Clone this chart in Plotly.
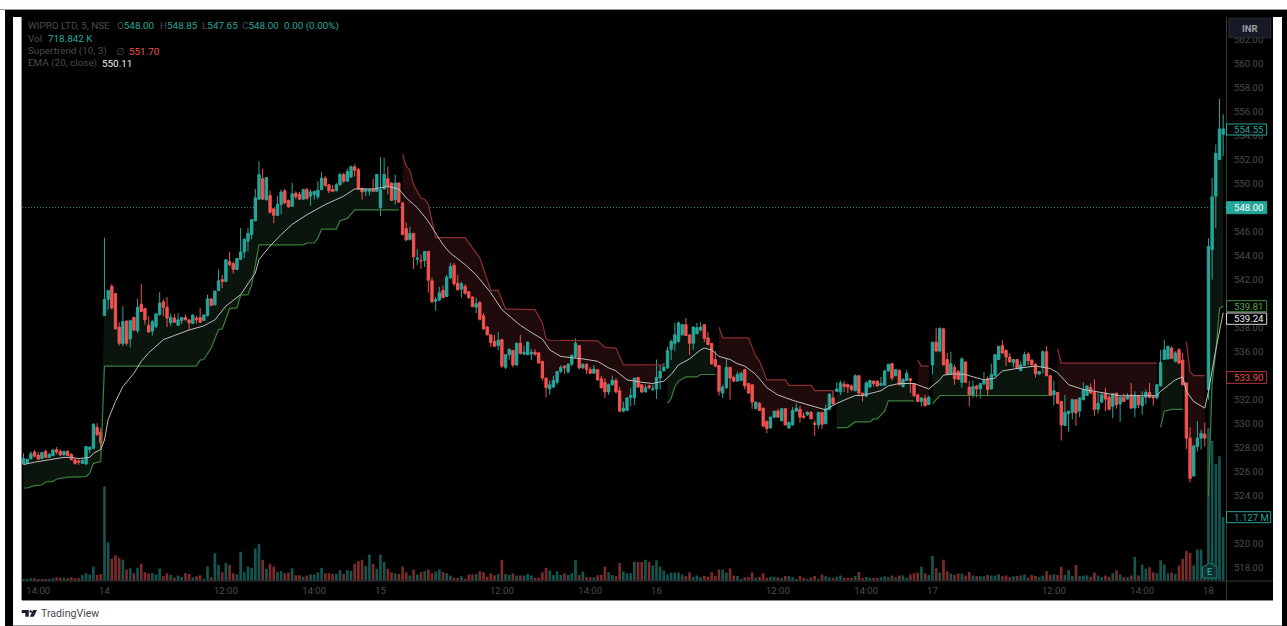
import plotly.graph_objects as go

W, H = 1287, 626

open_prices = [
526.65,526.7,527.1,527.65,527.4,527.1,527.7,527.2,527.35,527.85,
527.7,527.4,527.7,527.45,527,526.9,526.7,526.65,527.85,527.95,
529.7,529.3,539,540.35,541.45,540.85,538.05,536.65,538.55,537.05,
538.85,537.75,539.95,539.6,538.2,537.7,538.1,539.1,540.15,539.7,
538.4,538.8,538.2,538.6,538.85,538.65,538.35,538.8,538.85,538.6,
539,540.4,539.9,541.1,542,541.85,543.5,543.35,542.85,543.7,
544.3,545.2,545.75,546.9,548.7,550.4,548.65,549,547.9,547.35,
548.25,549.4,548.6,548.1,549.2,549.1,548.7,549.5,548.95,549.1,
548.9,549.5,550.45,549.9,549.5,549.4,549.9,550.75,550.2,550.55,
551.4,551.15,549.6,549.35,549.35,549.5,549.35,548,549.55,550.4,
550.05,548.65,550.05,548.4,546.25,545.35,545.85,543.7,543.6,543.6,
544.35,541.9,540.2,540.3,541.1,540.6,542.15,543.2,541.7,541.2,
541.45,541,540.55,539.7,540.1,539,538.05,537.4,536.85,536.5,
537,534.7,535.75,536.1,534.9,536.7,535.8,535.75,535.8,535.95,
535.9,535.2,533.8,532.9,533.05,533.45,534.35,534.8,534.3,534.95,
535.6,536.5,534.65,534.95,534.5,534.2,534.5,533.75,533.45,532.65,
533.25,533.6,532.75,531.05,531.1,532.2,532.15,533.85,533.25,532.65,
533.15,532.85,532.9,533.8,534.4,534.65,536.2,536.7,536.85,537.4,
538.25,537.4,536.7,537.5,537.8,538.25,537.15,536.7,535.35,534.85,
532.55,533,534.7,533.85,533.55,533.6,534.5,533.35,533.25,531.25,
531.7,531.3,530.2,529.65,530.55,531.05,530.25,531.25,529.65,529.9,
531.05,531.2,530.65,530.75,530.95,530.05,529.9,530.95,530,531.2,
532.15,532.7,532.65,533.3,533.25,533.15,532.75,534,532.55,532.3,
533.05,533.55,533.55,533.2,533.2,534.4,535,534,534.45,533.1,
533.6,533.75,533.35,532.4,531.85,532.1,531.6,534.9,536.8,536.05,
537.9,535.35,534.15,534.7,534.35,533.45,535.15,533.05,532.35,533.15,
532.9,533.3,533.75,532.9,534,535.35,536.5,536.1,535.55,535.1,
535.35,534.45,534.85,535.8,535.3,534.95,534.15,534.7,536,534,
532.4,532.6,531.85,529.85,530.85,530.95,532,531.05,532,532.35,
533,532.6,531.2,531.8,532.55,532.2,531.45,532.55,531.65,532.2,
532.05,532.4,531.3,532.35,531.5,532.2,532.6,532.25,532.15,533.15,
535.35,535.4,536.3,535.2,536.15,535.3,533.4,528.8,525.65,528.1,
528.8,529.15,532.85,544.5,548.95,552,554.1]

high_prices = [
527.55,527.1,527.7,527.8,527.65,527.65,527.85,527.55,527.9,528.05,
527.85,527.75,527.8,527.55,527.1,527.1,527.1,528.15,528.1,530.05,
530.05,529.65,545.5,541.15,541.65,540.85,538.45,539.8,538.6,538.65,
538.9,540.4,541.65,539.6,538.95,538.65,539.2,540.95,540.35,540.55,
539.15,539.15,539.2,538.85,539.1,538.65,539.1,539,539.65,539.1,
540.75,540.45,541.05,542.85,542.4,543.7,544.3,543.5,543.8,546.3,
545.45,546.3,547,549.55,551.85,551.25,550.55,549.4,547.95,548.95,
549.5,549.55,548.65,550.05,549.35,549.3,549.55,549.65,549.5,549.4,
550.2,550.95,550.6,549.95,549.9,550.05,550.9,550.9,551.25,551.5,
551.6,551.3,549.6,549.55,549.55,550.4,550.8,552.2,552.15,551.4,
550.1,550.75,550.05,548.45,546.75,546.4,545.85,544.55,544.1,544.35,
544.35,542.15,540.55,541.4,541.5,542.4,543.4,543.4,542.4,541.8,
541.6,541.05,540.6,540.5,540.2,539.2,538.15,537.4,537.4,537.65,
537.05,535.8,536.25,536.15,536.75,537.4,536.45,536.85,536.2,536.2,
535.95,535.2,533.8,533.6,534,534.35,534.9,534.85,535.05,535.75,
537.1,536.5,535.05,535.05,534.7,534.9,534.55,534,533.8,533.35,
534,533.8,533.05,531.85,532.2,533,533.8,533.85,533.25,533.25,
533.25,533.25,535.35,534.9,535.05,536.4,537,538.4,538.5,538.25,
538.8,537.4,538.1,538.4,538.45,538.25,537.65,536.7,536.05,534.9,
533.25,535.4,534.7,534,534.35,534.35,534.55,533.4,533.25,531.85,
531.8,531.3,530.2,530.6,531.05,531.25,531.3,531.3,530.2,531.4,
531.7,531.5,530.95,531.05,531.05,530.25,530.95,530.95,531.6,532.55,
532.8,533.45,533.6,533.55,533.35,533.25,534.1,534.05,532.6,533.55,
533.6,533.6,533.6,533.9,534.5,535,535,534.55,534.5,533.8,
534.5,533.8,533.4,532.5,532.2,532.4,532.35,536.8,538,538,
537.95,535.9,536,534.9,534.5,535.55,535.2,533.55,533.6,533.25,
533.4,534.3,533.95,535,535.75,536.45,536.95,536.2,535.9,535.35,
535.4,535.2,536,535.95,535.35,535.05,534.4,536.1,536.45,534.05,
533.6,532.65,531.85,532.4,531.05,532.1,532,532.15,533.45,533.15,
533.35,533.7,532.55,532.55,533,532.4,532.55,532.55,532.3,532.5,
532.55,533.4,532.7,532.35,532.7,532.85,533.4,532.4,533.25,536.15,
537,536.5,536.45,536.05,536.3,535.9,533.4,529.7,528.25,530.2,
529.5,530.1,545.45,550.45,553.25,557.05,555.75]

low_prices = [
526.65,526.65,527,527.2,527,527.05,527.15,527.15,527.3,527.45,
527.3,527.35,527.3,526.95,526.6,526.55,526.65,526.6,527.55,527.9,
528.95,527.85,539,539.5,539.5,537.85,536.5,536.45,536.5,536.35,
537.7,537.55,539.3,538.25,537.55,537.35,537.95,539,538.95,538.05,
538.15,538.4,538.15,538.3,538.6,537.8,538.3,538.35,538.4,538.55,
538.95,539.8,539.85,541.05,541.3,541.8,543.1,542.5,542.8,543.65,
543.8,544.35,545.35,546.85,548.65,548.65,548.6,547.5,546.7,547.3,
547.45,548.25,548,548.05,548.7,548.65,548.65,548.65,548.15,548.65,
548.7,549.45,549.75,549.2,549.3,549.35,549.85,550.05,550.15,550.45,
550.6,549.5,548.65,548.95,549,549.3,549.3,547.3,549.5,549.1,
548.55,548.25,548.4,545.7,545.2,545.25,542.9,543.2,542.9,543.05,
540.9,540.05,539.4,540.2,540.45,540.55,542.05,541.45,541.1,540.5,
540.75,540.4,539.7,539.2,538.6,537.8,537.35,536.4,536.4,536.1,
534.65,534.55,535.35,534.7,534.8,535.75,535.75,535.7,535.3,535.65,
535,533.6,532.2,532.4,533,533.25,534.2,534.15,534.2,534.8,
535.45,534.55,534.55,534.15,534.15,534.15,533.6,532.9,532.15,532.4,
533.15,532.55,530.95,530.95,531.05,531.45,531.55,533,532.55,532.6,
532.85,532.7,532.05,532.85,534.35,534.55,535.3,536.05,536.75,537.35,
537.3,535.75,536.15,537.45,537.7,536.8,536.5,534.9,534.7,532.35,
532.15,532.9,532,533.45,533.5,533.55,532.85,532.5,531.25,531.2,
531.05,529.7,529.2,529.6,530.5,530.5,530.2,529.85,529.6,529.85,
531,530.1,530.4,530.65,530.4,529,529.55,529.55,529.95,531.1,
531.6,532.65,532.4,532.65,532.55,532.7,532.7,532.4,531.85,532.2,
533,533.1,533.05,533.15,533.15,534.3,533.6,533.95,533.2,533,
533.55,532.55,532.2,531.8,531.45,531.45,531.55,534.1,535.95,535.95,
534.85,534.1,534.1,533.25,533.65,533,533.4,531.45,532.15,532.2,
532.1,533.25,532.4,532.85,533.95,535.3,535.8,534.8,535.1,534.7,
534.55,534.35,534.8,534.9,534.85,533.85,534.05,534.2,533.95,532.3,
531.55,531.65,528.6,529.8,529.35,530.35,529.85,530.55,531.95,532.3,
532.5,530.65,530.85,531.7,531.05,531.1,530.45,531.25,530.15,531.8,
532,531.25,530.55,531.3,530.75,531.6,532.1,531.5,532.05,533.1,
535.3,535.35,535.4,535.1,535,533.2,527.9,525.1,525.6,527.7,
527.85,528.1,532,542,546.3,551.95,552.3]

close_prices = [
527.1,527.05,527.5,527.3,527.05,527.6,527.2,527.45,527.8,527.65,
527.4,527.7,527.35,527,526.7,526.8,526.95,528.1,528.05,529.95,
529.1,528.4,540.35,541.1,539.65,537.9,536.7,538.5,536.7,538.6,
537.8,539.7,539.35,538.65,537.65,538.5,539.15,540.05,539.7,538.8,
538.85,538.45,538.65,538.85,538.65,538.4,539.05,538.65,538.45,539.05,
540.4,539.85,541.05,541.9,541.85,543.65,543.25,542.85,543.75,544.3,
545.35,545.85,547,548.8,550.75,548.7,550.5,547.6,547.35,548.25,
549.3,548.4,548.05,549.15,548.9,548.7,549.5,548.75,549.3,549.35,
549.45,550.45,549.85,549.4,549.35,549.9,550.75,550.2,551,551.4,
551.1,549.55,549.3,549.5,549.5,549.35,550.75,549.5,550.75,549.75,
548.6,550.05,548.45,545.75,545.3,545.85,543.9,543.8,543.55,544.35,
541.95,540.15,540.35,540.9,540.5,542.2,543.1,541.65,541.15,541.65,
540.85,540.5,539.75,540,538.7,537.9,537.4,536.75,536.45,536.95,
534.8,535.75,536.2,534.9,536.7,535.85,535.95,536.8,535.95,535.8,
535.05,533.8,533,533.25,533.6,534.35,534.7,534.65,534.95,535.7,
536.7,534.65,534.95,534.5,534.2,534.55,533.65,533,532.65,533.25,
533.6,532.65,531.05,531.3,532.15,532.35,533.8,533.05,532.65,533,
533,532.9,533.85,534.35,534.7,536.1,536.85,537.4,538.4,538.25,
537.35,536.7,538.05,538,538.05,537.1,536.6,535,534.8,532.7,
533.05,534.7,533.8,533.55,534.1,534.2,533.15,532.55,531.8,531.8,
531.1,529.8,529.6,530.55,531.05,530.55,531.25,529.9,530.1,531.1,
531.3,530.55,530.55,530.95,530.4,529.95,530.95,529.95,531.25,532.45,
531.65,532.9,533.4,533.1,533.05,532.85,534,532.55,532.35,533.4,
533.6,533.35,533.15,533.35,534.4,534.95,533.8,534.5,533.25,533.7,
534.2,533.6,532.35,531.85,532.15,531.5,532.2,536.8,536.05,537.95,
534.9,534.15,535,533.75,533.7,535.4,533.45,532.35,533.1,532.9,
533.35,533.6,532.85,534.1,535.75,536.45,535.9,535.55,535.15,535.35,
534.6,534.9,535.75,535.25,534.9,534.15,534.35,536,534,532.35,
532.75,531.7,529.9,530.95,531.05,532,530.9,532.15,532.85,533.15,
532.55,531.2,531.7,532.4,532.05,531.2,532.5,531.6,532.2,531.85,
532.35,531.3,532.4,531.6,532.2,532.6,532.2,532.15,533.25,535.1,
536.15,536.45,535.45,535.9,535.05,533.25,528.8,525.45,528.15,528.8,
529.2,528.8,544.75,548.9,552.5,554.55,554.55]

volumes_k = [
24,24,42,42,24,24,24,24,42,60,
54,54,42,60,42,42,102,132,108,252,
102,120,1668,678,390,450,408,372,198,222,
132,228,300,150,132,132,108,216,84,132,
102,54,90,66,132,120,60,78,96,36,
252,60,486,282,150,318,282,132,108,510,
150,252,228,570,654,372,210,300,252,150,
168,132,144,222,96,96,72,90,108,108,
150,228,132,132,120,120,186,120,186,174,
300,342,372,258,462,300,210,462,330,210,
150,132,120,252,150,90,192,108,150,168,
192,132,162,198,156,132,90,54,48,78,
36,108,108,120,168,150,72,132,96,120,
372,120,102,132,90,90,90,120,90,48,
54,150,228,180,102,168,102,132,102,132,
360,102,162,60,60,60,96,102,252,150,
102,78,312,162,132,132,336,330,330,372,
336,270,360,252,180,108,144,144,144,108,
84,150,72,90,60,84,72,150,84,198,
192,144,222,90,84,30,60,60,144,54,
72,132,54,72,72,60,48,84,84,60,
30,84,54,36,60,84,36,108,78,60,
48,72,90,54,54,54,84,156,48,66,
54,48,48,60,78,60,90,60,90,90,
54,108,132,144,252,132,102,438,222,144,
372,168,126,102,126,126,90,156,90,78,
78,78,102,90,90,114,78,90,60,78,
84,90,108,54,102,84,60,90,168,102,
114,102,246,102,186,84,276,78,90,90,
72,144,90,60,90,72,132,186,108,60,
60,90,420,90,288,210,240,150,132,360,
288,132,144,120,270,390,528,492,270,552,
552,270,2700,2472,2064,2202,1127]

# Supertrend: (bar, price) vertices
st_up_1 = [(0,524.65),(1,524.65),(3,524.85),(5,524.9),(6,525.15),(8,525.2),(9,525.4),(12,525.55),(17,525.6),(18,525.9),(19,526.7),(21,526.85),
           (22,534.8),(47,534.8),(48,535.3),(49,535.35),(51,536.3),(53,537.85),(54,537.9),(56,539.6),(58,539.65),(59,540.7),(61,540.75),(62,541.55),
           (64,544.9),(76,544.9),(77,545.05),(79,545.05),(80,545.45),(81,546.2),(85,546.2),(86,546.9),(88,547.1),(90,547.8),(102,547.8)]
st_dn_1 = [(103,552.45),(104,551.45),(105,551.1),(106,549.9),(108,548.8),(109,548.7),(110,548.25),(112,545.5),(120,545.5),(124,543.8),
           (127,541.1),(129,541.1),(131,539.55),(139,539.5),(141,538.4),(142,537.05),(143,536.95),(156,536.9),(158,536.35),(161,536.3),(163,534.9),(174,534.9)]
st_up_2 = [(175,531.7),(176,532.1),(177,533.1),(178,533.55),(180,533.9),(183,533.9),(184,534.1),(188,534.1)]
st_dn_2 = [(189,538.05),(190,537.15),(197,537.15),(199,535.6),(200,535.2),(201,534.5),(202,533.65),(207,533.65),(208,533.2),(214,533.2),(215,532.75),(220,532.75)]
st_up_3 = [(221,529.65),(224,529.7),(226,530.15),(230,530.15),(231,530.4),(232,530.4),(234,531.05),(235,531.9),(242,531.9)]
st_dn_3 = [(243,535.3),(244,534.8),(246,534.8)]
st_up_4 = [(247,531.65),(249,532.35),(279,532.35)]
st_dn_4 = [(281,536.25),(282,535.05),(308,535.05)]
st_up_5 = [(309,529.7),(310,531.05),(312,531.2),(315,531.2)]
st_dn_5 = [(316,536.85),(317,534.35),(318,534.0),(321,534.0)]
st_up_6 = [(322,524.0),(323,533.4),(324,536.0),(325,539.6),(326,539.81)]

# EMA (20, close): (bar, price) vertices
ema_line = [(0,526.6),(3,526.8),(7,527.0),(11,527.2),(13,527.2),(15,527.1),(18,527.2),(19,527.55),(21,527.85),(22,528.65),(23,530.35),(25,531.85),
 (27,533.1),(30,534.2),(32,535.2),(34,535.9),(36,536.45),(38,537.0),(41,537.35),(45,537.8),(49,538.15),(52,538.65),(55,539.8),(59,540.75),
 (63,542.55),(64,543.67),(67,544.8),(70,545.75),(73,546.6),(77,547.4),(82,548.25),(87,548.95),(90,549.55),(95,549.55),(99,549.75),(102,549.55),
 (104,548.8),(107,548.0),(110,546.85),(114,544.9),(116,544.2),(120,543.25),(123,542.4),(127,540.9),(130,539.5),(132,538.95),(135,538.2),(138,537.6),
 (141,537.05),(143,536.15),(146,535.6),(149,535.5),(152,535.4),(156,535.2),(159,534.65),(161,534.4),(164,533.65),(168,533.45),(171,533.35),(174,533.55),
 (176,534.1),(178,534.9),(181,535.4),(184,536.15),(185,536.3),(187,536.15),(189,535.6),(192,535.35),(194,535.0),(196,534.8),(199,534.1),(202,533.0),
 (205,532.4),(209,531.95),(215,531.4),(218,531.15),(221,531.7),(226,532.35),(228,532.35),(233,532.75),(235,533.15),(238,533.35),(242,533.35),(246,532.9),
 (249,533.65),(250,534.05),(253,534.15),(256,534.1),(257,534.0),(261,533.65),(264,533.8),(266,534.4),(271,534.65),(275,534.8),(279,534.6),(281,534.25),
 (284,533.25),(288,532.85),(291,532.7),(295,532.5),(298,532.33),(308,532.33),(309,532.7),(313,533.65),(315,533.9),(316,532.7),(318,531.85),(321,531.3),
 (322,532.7),(324,536.15),(326,539.24)]

time_tick_bars = [4,22,55,79,97,130,154,172,205,229,247,280,304,322]
time_tick_labels = ["14:00","14","12:00","14:00","15","12:00","14:00","16","12:00","14:00","17","12:00","14:00","18"]
# 522, 534, 540 and 548 sit fully behind the price tags in the reference
price_ticks = [518,520,524,526,528,530,532,536,538,542,544,546,550,552,554,556,558,560,562]
last_close_line = 548.00

# ---------- palette ----------
UP, DOWN = "#26a69a", "#ef5350"
VOL_UP, VOL_DOWN = "#14554f", "#7a2b2a"
ST_UP, ST_DOWN = "#3b7f3c", "#8b2f30"
FILL_UP, FILL_DOWN = "#0c150d", "#1f0b0c"
DIM = "#4c4c4c"
PRICE_RANGE = [516.93, 564.45]

def px(x): return x / W
def py(y): return 1 - y / H

bars = list(range(len(close_prices)))
mid = [(o + c) / 2 for o, c in zip(open_prices, close_prices)]

fig = go.Figure()

# Plotly paints scatter over candlesticks inside one subplot, so the stack is
# built from overlaid axes: fills (y), volume (y2), candles (y3), lines (y4).
def add_supertrend(seg, line_col, fill_col):
    a, b = seg[0][0], seg[-1][0]
    xs = list(range(a, b + 1)) + [v[0] for v in reversed(seg)]
    ys = mid[a:b + 1] + [v[1] for v in reversed(seg)]
    fig.add_trace(go.Scatter(x=xs, y=ys, mode="lines", fill="toself", fillcolor=fill_col,
                             line=dict(width=0), hoverinfo="skip", showlegend=False))
    return (seg, line_col)

st_lines = []
for seg in (st_up_1, st_up_2, st_up_3, st_up_4, st_up_5, st_up_6):
    st_lines.append(add_supertrend(seg, ST_UP, FILL_UP))
for seg in (st_dn_1, st_dn_2, st_dn_3, st_dn_4, st_dn_5):
    st_lines.append(add_supertrend(seg, ST_DOWN, FILL_DOWN))

vol_colors = [VOL_UP if c >= o else VOL_DOWN for o, c in zip(open_prices, close_prices)]
fig.add_trace(go.Bar(x=bars, y=volumes_k, yaxis="y2", width=0.72, marker=dict(color=vol_colors, line=dict(width=0)),
                     hoverinfo="skip", showlegend=False))

fig.add_trace(go.Candlestick(x=bars, open=open_prices, high=high_prices, low=low_prices, close=close_prices, yaxis="y3",
                             increasing=dict(line=dict(color=UP, width=1), fillcolor=UP),
                             decreasing=dict(line=dict(color=DOWN, width=1), fillcolor=DOWN),
                             whiskerwidth=0, showlegend=False))

for seg, col in st_lines:
    fig.add_trace(go.Scatter(x=[v[0] for v in seg], y=[v[1] for v in seg], mode="lines", yaxis="y4",
                             line=dict(color=col, width=1.2), hoverinfo="skip", showlegend=False))

fig.add_trace(go.Scatter(x=[v[0] for v in ema_line], y=[v[1] for v in ema_line], mode="lines", yaxis="y4",
                         line=dict(color="#bdbdbd", width=1.0), hoverinfo="skip", showlegend=False))

# ---------- frame ----------
shapes = []
def rect(x0, y0, x1, y1, fill, line=None, layer="below", lw=1):
    shapes.append(dict(type="rect", xref="paper", yref="paper", x0=px(x0), x1=px(x1), y0=py(y1), y1=py(y0),
                       fillcolor=fill, line=dict(color=line or fill, width=lw if line else 0), layer=layer))
def hline(y, x0, x1, col, layer="above"):
    shapes.append(dict(type="line", xref="paper", yref="paper", x0=px(x0), x1=px(x1), y0=py(y), y1=py(y),
                       line=dict(color=col, width=1), layer=layer))
def vline(x, y0, y1, col, layer="above"):
    shapes.append(dict(type="line", xref="paper", yref="paper", x0=px(x), x1=px(x), y0=py(y0), y1=py(y1),
                       line=dict(color=col, width=1), layer=layer))

rect(5, 10, 1287, 626, "#000000")
rect(13, 17, 1282, 625, "#ffffff")
rect(22, 17, 1273, 600, "#000000")
hline(9.5, 0, 1287, "#9a9a9a", "below")
hline(625.5, 13, 1282, "#9a9a9a", "below")
hline(600.5, 22, 1273, "#8a8a8a", "below")
vline(21.5, 17, 600, "#8a8a8a", "below")
vline(1226.5, 17, 600, "#3a3a3a")
hline(581, 22, 1273, "#33363a")

# last price dotted line
shapes.append(dict(type="line", xref="x", yref="y", x0=-0.4, x1=326.7, y0=last_close_line, y1=last_close_line,
                   line=dict(color="#1f8c83", width=1, dash="1px,2px"), layer="below"))

annotations = []
PAD = 2  # annotation boxes inset their text by this much
def text(x, y, s, color=DIM, size=9.6, anchor="left", bold=False):
    annotations.append(dict(xref="paper", yref="paper", x=px(x - PAD if anchor == "left" else x), y=py(y),
                            text=f"<b>{s}</b>" if bold else s,
                            showarrow=False, xanchor=anchor, yanchor="middle",
                            font=dict(family="Roboto", size=size, color=color)))

def tag(y0, y1, x1, label, border, fill="#000000", color=None):
    rect(1226.5, y0, x1, y1, fill, border, layer="above")
    text(1233.7, (y0 + y1) / 2, label, color or border, 9.6)

tag(124, 135, 1266.7, "554.55", UP)
tag(201.7, 213.7, 1266.7, "548.00", UP, UP, "#ffffff")
tag(300.7, 311.7, 1266.7, "539.81", "#3f9142", color="#4caf50")
tag(313, 324.3, 1266.7, "539.24", "#d8d8d8", color="#f0f0f0")
tag(371.7, 383.3, 1266.7, "533.90", "#b23c3c", color=DOWN)
tag(511.7, 522.7, 1270.7, "1.127 M", UP)

# currency button
rect(1229, 18.3, 1270.7, 37.7, "#171a23", "#2a2e39", layer="above")
text(1250, 28.5, "INR", "#9a9da6", 9.5, "center", True)

# earnings badge
shapes.append(dict(type="path", xref="paper", yref="paper", layer="above",
                   path=f"M {px(1202.5)} {py(578)} L {px(1217)} {py(578)} L {px(1217)} {py(567)} L {px(1209.7)} {py(563)} L {px(1202.5)} {py(567)} Z",
                   fillcolor="#0d2f2d", line=dict(color="#1d7f76", width=1)))
text(1209.7, 571.5, "E", "#2a9a90", 9, "center", True)

# header legend
text(28, 26, "WIPRO LTD, 5, NSE", DIM, 9.9)
for x, k, v in ((117, "O", "548.00"), (159.5, "H", "548.85"), (201.7, "L", "547.65"), (242, "C", "548.00")):
    text(x, 26, f'{k}<span style="color:{UP}">{v}</span>', DIM, 9.9)
text(284, 26, "0.00 (0.00%)", UP, 9.9)
text(28, 38.5, "Vol", DIM, 9.9)
text(47.7, 38.5, "718.842 K", UP, 9.9)
text(28, 51, "Supertrend (10, 3)", DIM, 9.9)
text(116, 51, "∅", DIM, 9.9)
text(128.7, 51, "551.70", DOWN, 9.9)
text(28, 63, "EMA (20, close)", DIM, 9.9)
text(102, 63, "550.11", "#f0f0f0", 9.9)

# TradingView logo
shapes.append(dict(type="path", xref="paper", yref="paper", layer="above",
                   path=(f"M {px(21.7)} {py(610)} L {px(28.8)} {py(610)} L {px(28.8)} {py(616.7)} L {px(25.3)} {py(616.7)} "
                         f"L {px(25.3)} {py(613)} L {px(21.7)} {py(613)} Z "
                         f"M {px(33)} {py(610)} L {px(37)} {py(610)} L {px(33.8)} {py(616.7)} L {px(29.8)} {py(616.7)} Z"),
                   fillcolor="#1e222d", line=dict(width=0)))
shapes.append(dict(type="circle", xref="paper", yref="paper", layer="above", x0=px(29.4), x1=px(32), y0=py(612.8), y1=py(610.2),
                   fillcolor="#1e222d", line=dict(width=0)))
text(40.7, 613, "TradingView", "#4a4a4a", 10.6)

overlay = dict(domain=[py(580.7), py(10)], overlaying="y", showgrid=False, zeroline=False,
               showticklabels=False, ticks="", showline=False)

fig.update_layout(
    width=W, height=H, autosize=False,
    margin=dict(l=0, r=0, t=0, b=0),
    paper_bgcolor="#ffffff", plot_bgcolor="rgba(0,0,0,0)",
    barmode="overlay", showlegend=False, hovermode=False, dragmode=False,
    boxgap=0.25, boxgroupgap=0.15,
    shapes=shapes, annotations=annotations,
    xaxis=dict(domain=[px(22), px(1226)], range=[-0.41, 326.77], anchor="y", showgrid=False, zeroline=False,
               rangeslider=dict(visible=False), tickmode="array", tickvals=time_tick_bars, ticktext=time_tick_labels,
               ticks="outside", ticklen=1, tickcolor="rgba(0,0,0,0)", showline=False,
               tickfont=dict(family="Roboto", size=9.6, color=DIM)),
    yaxis=dict(domain=[py(580.7), py(10)], range=PRICE_RANGE, side="right", anchor="x", showgrid=False, zeroline=False,
               tickmode="array", tickvals=price_ticks, tickformat=".2f", ticks="outside", ticklen=5, tickcolor="rgba(0,0,0,0)", showline=False,
               tickfont=dict(family="Roboto", size=9.6, color=DIM)),
    yaxis2=dict(range=[0, 10096], side="left", **overlay),
    yaxis3=dict(range=PRICE_RANGE, side="right", **overlay),
    yaxis4=dict(range=PRICE_RANGE, side="right", **overlay),
)

fig.write_html("out.html", config={"displayModeBar": False, "responsive": False},
               post_script="document.body.style.margin='0';document.documentElement.style.background='#fff';")
